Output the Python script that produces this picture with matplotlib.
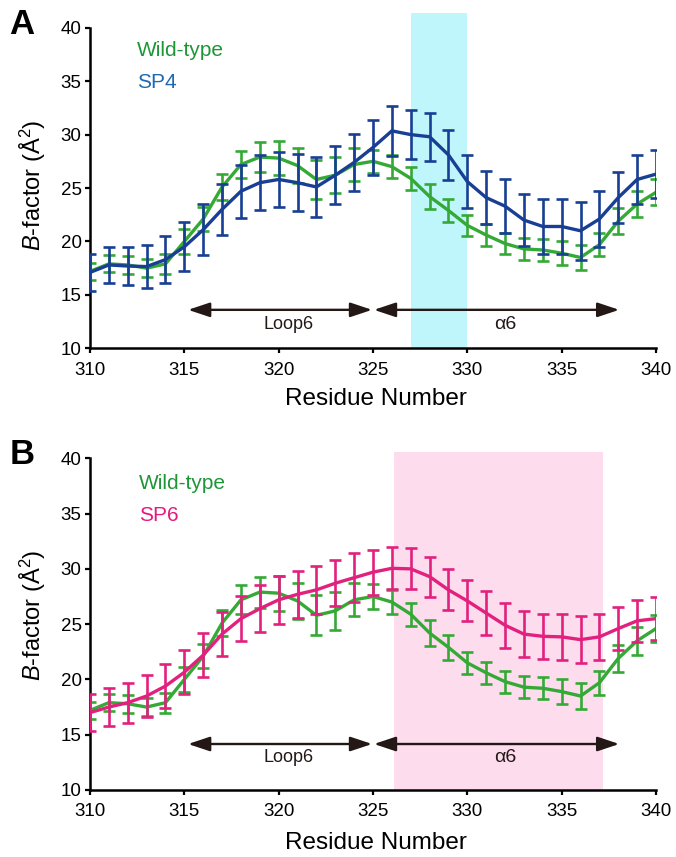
import matplotlib
matplotlib.use("Agg")
import matplotlib.pyplot as plt
import numpy as np

plt.rcParams['font.family'] = ['Liberation Sans', 'DejaVu Sans']
plt.rcParams['mathtext.fontset'] = 'custom'
plt.rcParams['mathtext.rm'] = 'Liberation Sans'
plt.rcParams['mathtext.it'] = 'Liberation Sans:italic'

residues = list(range(310, 341))

wt_mean = [17.2, 17.9, 17.8, 17.5, 17.9, 20.0, 22.1, 25.1, 27.2, 27.9, 27.8, 27.1, 25.8, 26.2,
           27.2, 27.5, 27.0, 25.9, 24.2, 22.9, 21.5, 20.6, 19.8, 19.3, 19.2, 18.9, 18.5, 19.7,
           21.9, 23.5, 24.6]
wt_err = [0.8, 0.8, 0.8, 0.85, 0.9, 1.15, 1.1, 1.2, 1.3, 1.4, 1.6, 1.65, 1.8, 1.7, 1.5, 1.1,
          1.05, 1.05, 1.2, 1.1, 1.0, 1.0, 1.0, 1.0, 1.0, 1.1, 1.2, 1.1, 1.2, 1.25, 1.2]

sp4_mean = [17.1, 17.8, 17.7, 17.65, 18.3, 19.5, 21.1, 23.0, 24.7, 25.5, 25.8, 25.5, 25.1, 26.2,
            27.4, 28.8, 30.35, 30.0, 29.8, 28.1, 25.6, 24.1, 23.3, 22.0, 21.4, 21.4, 21.0, 22.1,
            24.1, 25.8, 26.3]
sp4_err = [1.7, 1.65, 1.8, 2.0, 2.2, 2.3, 2.4, 2.4, 2.5, 2.55, 2.6, 2.65, 2.8, 2.7, 2.65, 2.55,
           2.35, 2.3, 2.25, 2.35, 2.5, 2.5, 2.5, 2.4, 2.55, 2.6, 2.7, 2.6, 2.4, 2.3, 2.25]

sp6_mean = [17.0, 17.5, 17.9, 18.5, 19.4, 20.65, 22.2, 24.1, 25.5, 26.4, 27.2, 27.7, 28.1, 28.7,
            29.2, 29.7, 30.05, 30.0, 29.3, 28.1, 27.1, 26.0, 24.9, 24.1, 23.9, 23.85, 23.6, 23.85,
            24.6, 25.3, 25.5]
sp6_err = [1.7, 1.75, 1.8, 1.9, 2.0, 2.0, 2.0, 2.0, 2.05, 2.1, 2.15, 2.1, 2.2, 2.1, 2.2, 2.05,
           1.9, 1.85, 1.8, 1.85, 1.85, 2.0, 2.05, 2.1, 2.05, 2.05, 2.1, 2.05, 1.95, 1.9, 1.95]

xticks = [310, 315, 320, 325, 330, 335, 340]
yticks = [10, 15, 20, 25, 30, 35, 40]

GREEN = '#35a935'
GREEN_TXT = '#1e9638'
BLUE = '#183f94'
BLUE_TXT = '#1f68b3'
PINK = '#e2217f'
PINK_TXT = '#e5197f'
DARK = '#231815'

fig = plt.figure(figsize=(6.76, 8.57), dpi=100)
W, H = 676, 857


def make_ax(top_px, bottom_px, ytop):
    ax = fig.add_axes([90 / W, 1 - bottom_px / H, 566 / W, (bottom_px - top_px) / H])
    ax.set_xlim(310, 340)
    ax.set_ylim(10, ytop)
    ax.spines['top'].set_visible(False)
    ax.spines['right'].set_visible(False)
    for s in ('left', 'bottom'):
        ax.spines[s].set_linewidth(1.8)
        ax.spines[s].set_color('black')
    ax.spines['left'].set_bounds(10, 40)
    ax.set_xticks(xticks)
    ax.set_yticks(yticks)
    ax.tick_params(axis='both', direction='out', length=3.6, width=1.6, labelsize=13.5,
                   colors='black')
    ax.tick_params(axis='x', pad=6)
    ax.tick_params(axis='y', pad=2.5)
    return ax


def draw(ax, mean, err, color, z):
    ax.errorbar(residues, mean, yerr=err, color=color, lw=2.4, elinewidth=1.9,
                capsize=4.3, capthick=1.9, zorder=z)


ASTYLE = '<|-|>,head_length=0.6,head_width=0.2'


def arrows(ax, y, ylab):
    ax.annotate('', xy=(315.2, y), xytext=(324.95, y),
                arrowprops=dict(arrowstyle=ASTYLE, color=DARK, lw=1.7, mutation_scale=22,
                                shrinkA=0, shrinkB=0), zorder=6)
    ax.annotate('', xy=(325.05, y), xytext=(338.05, y),
                arrowprops=dict(arrowstyle=ASTYLE, color=DARK, lw=1.7, mutation_scale=22,
                                shrinkA=0, shrinkB=0), zorder=6)
    ax.text(320.5, ylab, 'Loop6', ha='center', va='center', fontsize=13, color=DARK)
    ax.text(332.0, ylab, 'α6', ha='center', va='center', fontsize=14, color=DARK)


# Panel A
axA = make_ax(13, 348.3, 41.38)
axA.axvspan(327, 330, ymin=0, ymax=1, color='#bff6fc', lw=0, zorder=0)
draw(axA, wt_mean, wt_err, GREEN, 3)
draw(axA, sp4_mean, sp4_err, BLUE, 4)
arrows(axA, 13.6, 12.25)
axA.text(312.5, 37.9, 'Wild-type', color=GREEN_TXT, fontsize=15, va='center', ha='left')
axA.text(312.5, 34.9, 'SP4', color=BLUE_TXT, fontsize=15, va='center', ha='left')

# Panel B
axB = make_ax(452, 790, 40.57)
axB.axvspan(326.1, 337.2, ymin=0, ymax=1, color='#fddcee', lw=0, zorder=0)
draw(axB, wt_mean, wt_err, GREEN, 3)
draw(axB, sp6_mean, sp6_err, PINK, 4)
arrows(axB, 14.16, 12.9)
axB.text(312.6, 37.75, 'Wild-type', color=GREEN_TXT, fontsize=15, va='center', ha='left')
axB.text(312.6, 34.8, 'SP6', color=PINK_TXT, fontsize=15, va='center', ha='left')

ylab = r'$\mathit{B}$-factor (Å$^{2}$)'
fig.text(33 / W, 1 - 185 / H, ylab, rotation=90, ha='center', va='center', fontsize=17)
fig.text(33 / W, 1 - 615 / H, ylab, rotation=90, ha='center', va='center', fontsize=17)
fig.text(376 / W, 1 - 399 / H, 'Residue Number', ha='center', va='center', fontsize=17.5)
fig.text(376 / W, 1 - 843 / H, 'Residue Number', ha='center', va='center', fontsize=17.5)
fig.text(22 / W, 1 - 24 / H, 'A', ha='center', va='center', fontsize=25, fontweight='bold')
fig.text(22 / W, 1 - 455 / H, 'B', ha='center', va='center', fontsize=25, fontweight='bold')

fig.savefig('out.png', dpi=100)
